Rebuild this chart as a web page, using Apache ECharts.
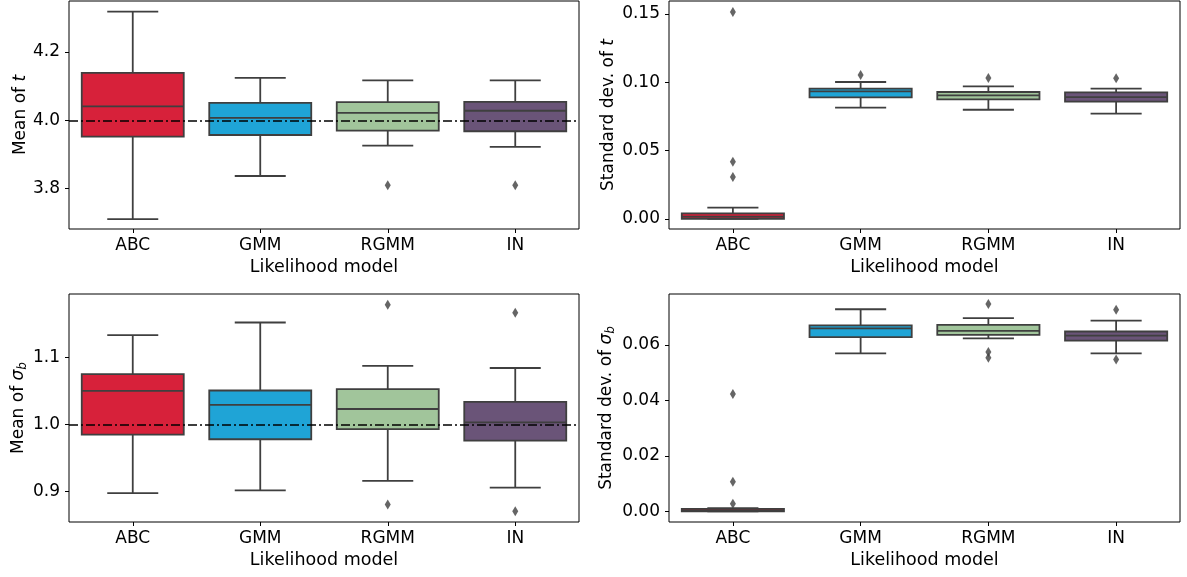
<!DOCTYPE html>
<html>
<head>
<meta charset="utf-8">
<script src="https://cdn.jsdelivr.net/npm/echarts@6/dist/echarts.min.js"></script>
<style>
html,body{margin:0;padding:0;background:#fff;}
#c{width:1187px;height:577px;}
</style>
</head>
<body>
<div id="c"></div>
<script>
// ---- data ----
const categories = ['ABC', 'GMM', 'RGMM', 'IN'];
// each box: [lowWhisker, q1, median, q3, highWhisker]
const meanT = [[3.711, 3.952, 4.041, 4.139, 4.318], [3.837, 3.957, 4.007, 4.051, 4.124], [3.926, 3.970, 4.022, 4.053, 4.117], [3.922, 3.968, 4.028, 4.054, 4.117]];
const meanTOut = [[], [], [3.810], [3.810]];
const sdT = [[0.0, 0.0, 0.0015, 0.0040, 0.0082], [0.0813, 0.0889, 0.0933, 0.0952, 0.1001], [0.0798, 0.0874, 0.0903, 0.0928, 0.0969], [0.0769, 0.0857, 0.0891, 0.0925, 0.0952]];
const sdTOut = [[0.1513, 0.0417, 0.0305], [0.1052], [0.1031], [0.1028]];
const meanS = [[0.898, 0.985, 1.050, 1.075, 1.133], [0.902, 0.978, 1.029, 1.0505, 1.1516], [0.916, 0.993, 1.023, 1.0526, 1.087], [0.906, 0.976, 1.003, 1.0337, 1.084]];
const meanSOut = [[], [], [1.178, 0.881], [1.166, 0.871]];
const sdS = [[0.0, 0.0, 0.0004, 0.0009, 0.0012], [0.0569, 0.0628, 0.0659, 0.0670, 0.0728], [0.0623, 0.0636, 0.0650, 0.0672, 0.0696], [0.0569, 0.0615, 0.0633, 0.0648, 0.0687]];
const sdSOut = [[0.0423, 0.0107, 0.0028], [], [0.0747, 0.0574, 0.0553], [0.0726, 0.0547]];
const trueValues = [4.0, null, 1.0, null];
const yTicks = [[3.8, 4.0, 4.2], [0.00, 0.05, 0.10, 0.15], [0.9, 1.0, 1.1], [0.00, 0.02, 0.04, 0.06]];
const yDecimals = [1, 2, 1, 2];
const yRanges = [[3.682, 4.349], [-0.0075, 0.1594], [0.855, 1.194], [-0.0038, 0.0783]];
const yNames = [
  '{n|Mean of }{i|t}',
  '{n|Standard dev. of }{i|t}',
  '{n|Mean of }{i|σ}{s|b}',
  '{n|Standard dev. of }{i|σ}{s|b}'
];
const xName = 'Likelihood model';

// ---- styling ----
const colors = ['#D7213A', '#1FA4D6', '#A1C59B', '#6A5478'];
const edge = '#3F3F3F';
const FONT = 'DejaVu Sans';
const FS = 17;

const boxes = [meanT, sdT, meanS, sdS];
const outs = [meanTOut, sdTOut, meanSOut, sdSOut];

const grids = [
  {left: 69, top: 1, width: 510, height: 228},
  {left: 669, top: 1, width: 511, height: 228},
  {left: 69, top: 294, width: 510, height: 228},
  {left: 669, top: 294, width: 511, height: 228}
].map(g => Object.assign(g, {show: true, borderColor: '#000', borderWidth: 1, backgroundColor: 'transparent', containLabel: false}));

const yNameGaps = [40, 52, 40, 52];

const rich = {
  n: {fontFamily: FONT, fontSize: FS, color: '#000', verticalAlign: 'middle'},
  i: {fontFamily: FONT, fontSize: FS, fontStyle: 'italic', color: '#000', verticalAlign: 'middle'},
  s: {fontFamily: FONT, fontSize: 12, fontStyle: 'italic', color: '#000', verticalAlign: 'bottom', padding: [9, 0, 0, 0]}
};

const xAxes = grids.map((g, k) => ({
  type: 'category', gridIndex: k, data: categories,
  name: xName, nameLocation: 'middle', nameGap: 29,
  nameTextStyle: {fontFamily: FONT, fontSize: 17.5, color: '#000'},
  axisLine: {show: false, onZero: false},
  axisTick: {show: true, alignWithLabel: true, length: 4, lineStyle: {color: '#000', width: 1}},
  axisLabel: {fontFamily: FONT, fontSize: FS, color: '#000', margin: 8},
  splitLine: {show: false}
}));

const yAxes = grids.map((g, k) => ({
  type: 'value', gridIndex: k, min: yRanges[k][0], max: yRanges[k][1],
  name: yNames[k], nameLocation: 'middle', nameRotate: 90, nameGap: yNameGaps[k],
  nameTextStyle: {rich: rich, fontFamily: FONT, fontSize: FS, color: '#000'},
  axisLine: {show: false, onZero: false},
  axisTick: {show: true, length: 4, customValues: yTicks[k], lineStyle: {color: '#000', width: 1}},
  axisLabel: {show: true, customValues: yTicks[k], fontFamily: FONT, fontSize: FS, color: '#000', margin: 9,
    formatter: v => Number(v).toFixed(yDecimals[k])},
  splitLine: {show: false}
}));

function renderBox(params, api) {
  const x = api.value(0);
  const lo = api.coord([x, api.value(1)]);
  const q1 = api.coord([x, api.value(2)]);
  const md = api.coord([x, api.value(3)]);
  const q3 = api.coord([x, api.value(4)]);
  const hi = api.coord([x, api.value(5)]);
  const bw = api.size([1, 0])[0] * 0.8;
  const cx = lo[0];
  const cap = bw / 4;
  const ls = {stroke: edge, lineWidth: 1.8};
  const fill = colors[params.dataIndex];
  return {
    type: 'group',
    children: [
      {type: 'line', shape: {x1: cx, y1: hi[1], x2: cx, y2: q3[1]}, style: ls},
      {type: 'line', shape: {x1: cx, y1: q1[1], x2: cx, y2: lo[1]}, style: ls},
      {type: 'line', shape: {x1: cx - cap, y1: hi[1], x2: cx + cap, y2: hi[1]}, style: ls},
      {type: 'line', shape: {x1: cx - cap, y1: lo[1], x2: cx + cap, y2: lo[1]}, style: ls},
      {type: 'rect', shape: {x: cx - bw / 2, y: q3[1], width: bw, height: q1[1] - q3[1]}, style: {fill: fill, stroke: edge, lineWidth: 1.8}},
      {type: 'line', shape: {x1: cx - bw / 2, y1: md[1], x2: cx + bw / 2, y2: md[1]}, style: ls}
    ]
  };
}

const series = [];
boxes.forEach((b, k) => {
  series.push({
    type: 'custom', xAxisIndex: k, yAxisIndex: k, silent: true, z: 2,
    renderItem: renderBox,
    encode: {x: 0, y: [1, 2, 3, 4, 5]},
    data: b.map((d, i) => [i].concat(d))
  });
  const pts = [];
  outs[k].forEach((arr, i) => arr.forEach(v => pts.push([i, v])));
  const sc = {
    type: 'scatter', xAxisIndex: k, yAxisIndex: k, silent: true, z: 5,
    symbol: 'diamond', symbolSize: [6, 10],
    itemStyle: {color: edge},
    data: pts
  };
  if (trueValues[k] !== null) {
    sc.markLine = {
      silent: true, symbol: 'none', animation: false,
      label: {show: false},
      lineStyle: {color: '#000', width: 1.5, type: [9, 3, 2, 3]},
      data: [{yAxis: trueValues[k]}]
    };
  }
  series.push(sc);
});

const chart = echarts.init(document.getElementById('c'), null, {renderer: 'canvas'});
chart.setOption({
  animation: false,
  backgroundColor: '#fff',
  grid: grids,
  xAxis: xAxes,
  yAxis: yAxes,
  series: series
});
</script>
</body>
</html>
